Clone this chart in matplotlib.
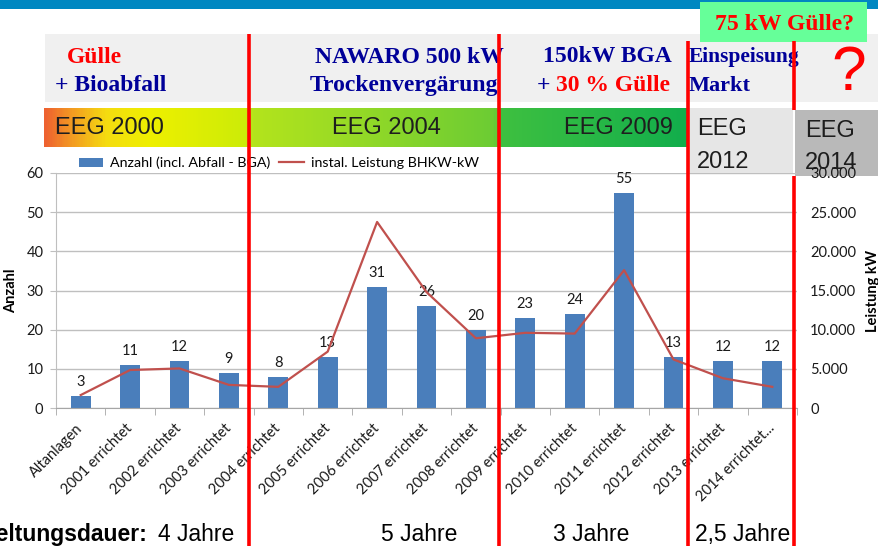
import numpy as np
import matplotlib
matplotlib.use("Agg")
import matplotlib.pyplot as plt
import matplotlib.transforms as mtransforms
from matplotlib.patches import Rectangle
from matplotlib.colors import LinearSegmentedColormap
from matplotlib.ticker import FuncFormatter

# data
categories = ["Altanlagen", "2001 errichtet", "2002 errichtet", "2003 errichtet",
              "2004 errichtet", "2005 errichtet", "2006 errichtet", "2007 errichtet",
              "2008 errichtet", "2009 errichtet", "2010 errichtet", "2011 errichtet",
              "2012 errichtet", "2013 errichtet", "2014 errichtet..."]
anzahl = [3, 11, 12, 9, 8, 13, 31, 26, 20, 23, 24, 55, 13, 12, 12]
leistung_kw = [1650, 4850, 5050, 2950, 2700, 7200, 23750, 14800, 8900,
               9600, 9500, 17600, 6200, 3800, 2700]
left_ticks = [0, 10, 20, 30, 40, 50, 60]
right_ticks = [0, 5000, 10000, 15000, 20000, 25000, 30000]

W, H = 879, 546
RED = "#FF0000"
NAVY = "#000099"
SERIF = "Liberation Serif"
SANS = "Liberation Sans"
CHART = "Lato"

def box(x0, y0, x1, y1):
    # pixel box -> figure fraction
    return [x0 / W, 1 - y1 / H, (x1 - x0) / W, (y1 - y0) / H]

fig = plt.figure(figsize=(W / 100, H / 100), dpi=100)

# background layer (slide decorations)
bg = fig.add_axes([0, 0, 1, 1], zorder=0)
bg.axis("off")
bg.add_patch(Rectangle((0, 0), W, 9, color="#0087C1", lw=0))
bg.add_patch(Rectangle((45, 34), W - 45, 68, color="#F0F0F0", lw=0))
bg.add_patch(Rectangle((700, 2), 167, 40, color="#66FF99", lw=0))

# EEG band gradient
stops = [(44, "#EE6230"), (70, "#F39A22"), (105, "#F5DC10"), (150, "#EEF000"),
         (245, "#CCEC08"), (252, "#B4E41C"), (495, "#6CCC34"), (502, "#3EC040"),
         (688, "#12AE4C")]
cmap = LinearSegmentedColormap.from_list(
    "eeg", [((x - 44) / (688 - 44), c) for x, c in stops])
bg.imshow(np.linspace(0, 1, 600)[None, :], cmap=cmap, aspect="auto",
          extent=(44, 688, 147, 108), interpolation="bilinear")
bg.add_patch(Rectangle((688, 108), 105, 65, color="#E6E6E6", lw=0))
bg.add_patch(Rectangle((795, 110), 84, 66, color="#B9B9B9", lw=0))
bg.set_xlim(0, W)
bg.set_ylim(H, 0)

eeg_kw = dict(family=SANS, fontsize=17, color="#1E1E1E", va="center")
bg.text(55, 128, "EEG 2000", ha="left", **eeg_kw)
bg.text(332, 128, "EEG 2004", ha="left", **eeg_kw)
bg.text(673, 128, "EEG 2009", ha="right", **eeg_kw)
bg.text(697, 129, "EEG", ha="left", **eeg_kw)
bg.text(697, 162, "2012", ha="left", **eeg_kw)
bg.text(805, 131, "EEG", ha="left", **eeg_kw)
bg.text(805, 163, "2014", ha="left", **eeg_kw)

# header texts
hd = dict(family=SERIF, fontweight="bold", fontsize=17, va="baseline")
bg.text(67, 63, "Gülle", color=RED, **hd)
bg.text(55, 91, "+ Bioabfall", color=NAVY, **hd)
bg.text(315, 63, "NAWARO 500 kW", color=NAVY, **hd)
bg.text(310, 91, "Trockenvergärung", color=NAVY, **hd)
bg.text(543, 62, "150kW BGA", color=NAVY, **hd)
bg.text(537, 91, "+", color=NAVY, **hd)
bg.text(556, 91, "30 % Gülle", color=RED, **hd)
bg.text(689, 62, "Einspeisung", color=NAVY, **dict(hd, fontsize=15.5))
bg.text(689, 91, "Markt", color=NAVY, **dict(hd, fontsize=16))
bg.text(715, 30, "75 kW Gülle?", color=RED, **hd)
bg.text(849, 90, "?", color=RED, family=SANS, fontsize=45, ha="center", va="baseline")

# bottom texts
bt = dict(family=SANS, fontsize=16.5, color="black", va="baseline")
bg.text(147, 541, "Geltungsdauer:", ha="right", fontweight="bold", **bt)
bg.text(158, 541, "4 Jahre", ha="left", **bt)
bg.text(381, 541, "5 Jahre", ha="left", **bt)
bg.text(553, 541, "3 Jahre", ha="left", **bt)
bg.text(695, 541, "2,5 Jahre", ha="left", **bt)

# chart
x = np.arange(len(categories))
ax = fig.add_axes(box(56, 173, 797, 408), zorder=1)
ax.patch.set_alpha(0)
bars = ax.bar(x, anzahl, width=0.4, color="#4A7EBB")
ax.bar_label(bars, padding=5, fontsize=10.5, family=CHART, color="#1A1A1A")
ax.set_xlim(-0.5, len(categories) - 0.5)
ax.set_ylim(0, 60)
ax.set_yticks(left_ticks)
ax.set_axisbelow(True)
ax.yaxis.grid(True, color="#BFBFBF", lw=1)
for s in ["top", "right"]:
    ax.spines[s].set_visible(False)
ax.spines["left"].set_color("#BFBFBF")
ax.spines["bottom"].set_color("#A6A6A6")
ax.tick_params(axis="y", length=4, color="#BFBFBF", pad=5, labelsize=10.5,
               labelcolor="#1A1A1A")
ax.set_xticks(x)
ax.set_xticklabels(categories, rotation=45, ha="right", va="center",
                   rotation_mode="anchor", fontsize=10.5, family=CHART, color="#1A1A1A")
shift = mtransforms.ScaledTranslation(0.06, -0.02, fig.dpi_scale_trans)
for lab in ax.get_xticklabels():
    lab.set_transform(lab.get_transform() + shift)
ax.set_xticks(np.arange(-0.5, len(categories), 1), minor=True)
ax.tick_params(axis="x", which="major", length=0, pad=13)
ax.tick_params(axis="x", which="minor", length=5, color="#A6A6A6")
for lab in ax.get_yticklabels():
    lab.set_family(CHART)
ax.set_ylabel("Anzahl", family=CHART, fontweight="bold", fontsize=10.5)
ax.yaxis.set_label_coords((18.5 - 56) / 741, 0.5)

ax2 = ax.twinx()
ax2.set_zorder(2)
ax2.patch.set_visible(False)
line, = ax2.plot(x, leistung_kw, color="#C0504D", lw=1.6)
ax2.set_ylim(0, 30000)
ax2.set_yticks(right_ticks)
ax2.yaxis.set_major_formatter(FuncFormatter(lambda v, p: f"{int(v):,}".replace(",", ".")))
for s in ax2.spines.values():
    s.set_visible(False)
ax2.tick_params(axis="y", length=0, pad=9.5, labelsize=10.5, labelcolor="#1A1A1A")
for lab in ax2.get_yticklabels():
    lab.set_family(CHART)
ax2.set_ylabel("Leistung kW", family=CHART, fontweight="bold", fontsize=10.5)
ax2.yaxis.set_label_coords((866 - 56) / 741, 0.5)

fig.legend([bars, line], ["Anzahl (incl. Abfall - BGA)", "instal. Leistung BHKW-kW"],
           loc="center left", bbox_to_anchor=(79 / W, 1 - 163 / H), ncol=2,
           frameon=False, borderpad=0, borderaxespad=0, handlelength=1.7,
           handleheight=0.6, handletextpad=0.5, columnspacing=0.6,
           prop=dict(family=CHART, size=10.3))

# foreground layer: red separators
fg = fig.add_axes([0, 0, 1, 1], zorder=6)
fg.axis("off")
fg.patch.set_visible(False)
fg.set_xlim(0, W)
fg.set_ylim(H, 0)
sep_kw = dict(color=RED, lw=2.6, solid_capstyle="butt")
fg.plot([249, 249], [34, H], **sep_kw)
fg.plot([499, 499], [34, H], **sep_kw)
fg.plot([688, 688], [41, H], **sep_kw)
fg.plot([794, 794], [41, 110], **sep_kw)
fg.plot([794, 794], [176, H], **sep_kw)

fig.savefig("out.png", dpi=100)
